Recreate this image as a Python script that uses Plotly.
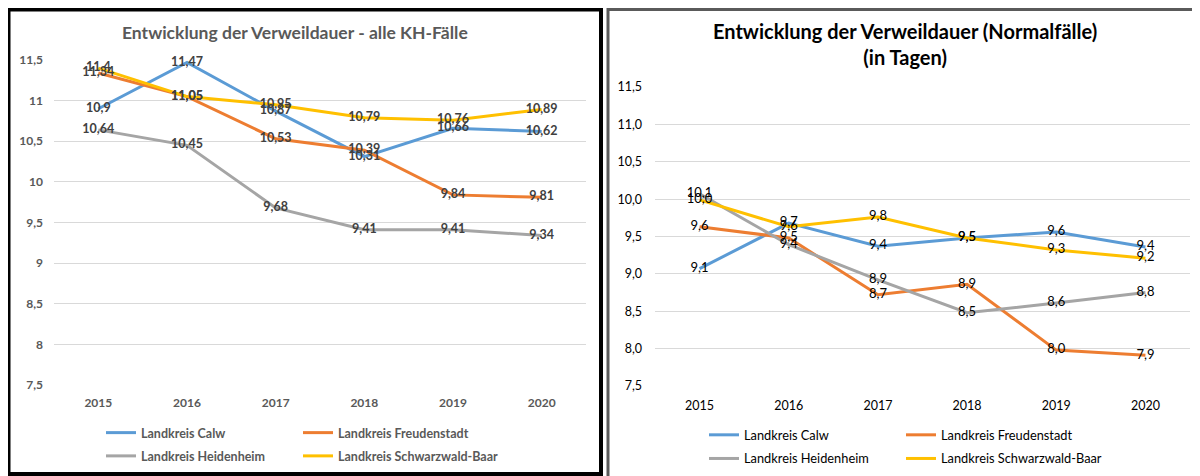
import plotly.graph_objects as go

years = ["2015", "2016", "2017", "2018", "2019", "2020"]
series_names = ["Landkreis Calw", "Landkreis Freudenstadt", "Landkreis Heidenheim", "Landkreis Schwarzwald-Baar"]
colors = ["#5B9BD5", "#ED7D31", "#A5A5A5", "#FFC000"]

# Left chart: alle KH-Fälle
left_calw = [10.9, 11.47, 10.87, 10.31, 10.66, 10.62]
left_freudenstadt = [11.34, 11.05, 10.53, 10.39, 9.84, 9.81]
left_heidenheim = [10.64, 10.45, 9.68, 9.41, 9.41, 9.34]
left_sbk = [11.4, 11.05, 10.95, 10.79, 10.76, 10.89]

# Right chart: Normalfälle (in Tagen)
right_calw = [9.07, 9.68, 9.37, 9.48, 9.56, 9.36]
right_freudenstadt = [9.63, 9.48, 8.72, 8.86, 7.98, 7.91]
right_heidenheim = [10.07, 9.39, 8.92, 8.48, 8.61, 8.75]
right_sbk = [9.99, 9.63, 9.76, 9.48, 9.32, 9.21]

y_ticks = [7.5, 8, 8.5, 9, 9.5, 10, 10.5, 11, 11.5]

left_title = "Entwicklung der Verweildauer - alle KH-Fälle"
right_title = "Entwicklung der Verweildauer (Normalfälle)<br>(in Tagen)"

FONT = "Lato, Open Sans, sans-serif"

left_series = [left_calw, left_freudenstadt, left_heidenheim, left_sbk]
right_series = [right_calw, right_freudenstadt, right_heidenheim, right_sbk]

def gen_fmt(v):
    return f"{v:g}".replace(".", ",")

def one_dec(v):
    return f"{v:.1f}".replace(".", ",")

fig = go.Figure()

legend_map_left = ["legend", "legend2", "legend", "legend2"]
legend_map_right = ["legend3", "legend4", "legend3", "legend4"]

for i, (name, vals) in enumerate(zip(series_names, left_series)):
    fig.add_trace(go.Scatter(
        x=years, y=vals, name=name, mode="lines",
        line=dict(color=colors[i], width=3),
        xaxis="x", yaxis="y", legend=legend_map_left[i], legendgroup=f"l{i}",
        hoverinfo="skip"))
for i, (name, vals) in enumerate(zip(series_names, right_series)):
    fig.add_trace(go.Scatter(
        x=years, y=vals, name=name, mode="lines",
        line=dict(color=colors[i], width=3),
        xaxis="x2", yaxis="y2", legend=legend_map_right[i], legendgroup=f"r{i}",
        hoverinfo="skip"))
for i, vals in enumerate(left_series):
    fig.add_trace(go.Scatter(
        x=years, y=vals, mode="text", text=[gen_fmt(v) for v in vals],
        textposition="middle center", cliponaxis=False,
        textfont=dict(family=FONT, size=12.5, color="#404040", weight="bold"),
        xaxis="x", yaxis="y", showlegend=False, hoverinfo="skip"))
for i, vals in enumerate(right_series):
    fig.add_trace(go.Scatter(
        x=years, y=vals, mode="text", text=[one_dec(v) for v in vals],
        textposition="middle center", cliponaxis=False,
        textfont=dict(family=FONT, size=13, color="#000000"),
        xaxis="x2", yaxis="y2", showlegend=False, hoverinfo="skip"))

W, H = 1200, 476
OFF = 8  # page body margin in the browser
def px(x):
    return (x - OFF) / W
def py(y):
    return 1 - (y - OFF) / H

axis_common = dict(showline=False, zeroline=False, ticks="", automargin=False)
fig.update_layout(
    width=W, height=H,
    margin=dict(l=0, r=0, t=0, b=0, autoexpand=False),
    paper_bgcolor="white", plot_bgcolor="white",
    separators=",.",
    font=dict(family=FONT),
    xaxis=dict(domain=[px(54), px(586)], anchor="y", type="category", range=[-0.5, 5.5],
               showgrid=False, tickfont=dict(family=FONT, size=12, color="#595959", weight="bold"),
               ticklabelstandoff=9, **axis_common),
    yaxis=dict(domain=[py(385), py(60)], anchor="x", range=[7.5, 11.5],
               tickvals=y_ticks, ticktext=[gen_fmt(v) for v in y_ticks],
               showgrid=True, gridcolor="#D9D9D9", gridwidth=1,
               tickfont=dict(family=FONT, size=12, color="#595959", weight="bold"),
               ticklabelstandoff=10, **axis_common),
    xaxis2=dict(domain=[px(655), px(1190)], anchor="y2", type="category", range=[-0.5, 5.5],
                showgrid=False, tickfont=dict(family=FONT, size=12.5, color="#000000"),
                ticklabelstandoff=10, **axis_common),
    yaxis2=dict(domain=[py(386), py(87)], anchor="x2", range=[7.5, 11.5],
                tickvals=y_ticks, tickformat=".1f",
                showgrid=True, gridcolor="#D9D9D9", gridwidth=1,
                tickfont=dict(family=FONT, size=12.5, color="#000000"),
                ticklabelstandoff=12, **axis_common),
    annotations=[
        dict(text=left_title, x=px(295), y=py(32), xref="paper", yref="paper",
             showarrow=False, xanchor="center", yanchor="middle",
             font=dict(family=FONT, size=17.5, color="#595959", weight="bold")),
        dict(text=right_title, x=px(905), y=py(44), xref="paper", yref="paper",
             showarrow=False, xanchor="center", yanchor="middle",
             font=dict(family=FONT, size=20, color="#000000", weight="bold")),
    ],
    shapes=[
        dict(type="rect", xref="paper", yref="paper", x0=px(8.5), x1=px(601), y0=py(474), y1=py(9.5),
             line=dict(color="#000000", width=4)),
        dict(type="rect", xref="paper", yref="paper", x0=px(608), x1=px(1220), y0=py(490), y1=py(9.5),
             line=dict(color="#5a5a5a", width=3)),
    ],
)

leg_common = dict(orientation="v", xanchor="left", yanchor="top", bgcolor="rgba(0,0,0,0)",
                  traceorder="grouped", tracegroupgap=4, itemwidth=30,
                  xref="container", yref="container")
left_leg_font = dict(family=FONT, size=12.5, color="#595959", weight="bold")
right_leg_font = dict(family=FONT, size=12.8, color="#000000")
fig.update_layout(
    legend=dict(x=px(101), y=py(418), font=left_leg_font, **leg_common),
    legend2=dict(x=px(298), y=py(418), font=left_leg_font, **leg_common),
    legend3=dict(x=px(704), y=py(420), font=right_leg_font, **leg_common),
    legend4=dict(x=px(901), y=py(420), font=right_leg_font, **leg_common),
)

fig.write_html("out.html")
